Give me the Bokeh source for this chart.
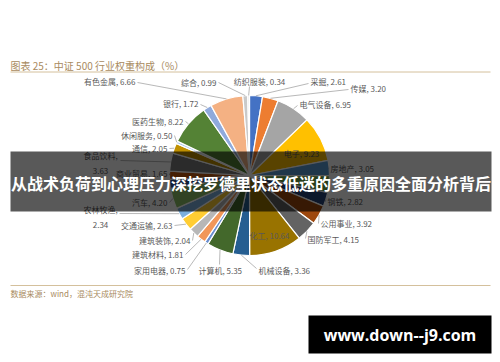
import numpy as np
from bokeh.plotting import figure
from bokeh.models import Range1d, ColumnDataSource
from bokeh.core.properties import value
from bokeh.embed import file_html
from bokeh.resources import INLINE

# ---------------- data ----------------
categories = ["采掘", "传媒", "电气设备", "电子", "房地产", "非银金融", "钢铁", "公用事业",
              "国防军工", "化工", "机械设备", "计算机", "家用电器", "建筑材料", "建筑装饰",
              "交通运输", "农林牧渔", "汽车", "轻工制造", "商业贸易", "食品饮料", "通信",
              "休闲服务", "医药生物", "银行", "有色金属", "综合", "纺织服装"]
weights = [2.61, 3.20, 6.95, 9.23, 3.05, 3.40, 2.82, 3.92,
           4.15, 10.64, 3.36, 5.35, 0.75, 1.81, 2.04,
           2.63, 2.34, 4.20, 1.79, 1.65, 3.63, 2.05,
           0.50, 8.22, 1.72, 6.66, 0.99, 0.34]
# labels shown in the picture (None = hidden under the banner)
label_texts = ["采掘, 2.61", "传媒, 3.20", "电气设备, 6.95", "电子, 9.23", "房地产, 3.05", None,
               "钢铁, 2.82", "公用事业, 3.92", "国防军工, 4.15", "化工, 10.64", "机械设备, 3.36",
               "计算机, 5.35", "家用电器, 0.75", "建筑材料, 1.81", "建筑装饰, 2.04",
               "交通运输, 2.63", "农林牧渔,\n2.34", "汽车, 4.20", None, "商业贸易, 1.65",
               "食品饮料,\n3.63", "通信, 2.05", "休闲服务, 0.50", "医药生物, 8.22",
               "银行, 1.72", "有色金属, 6.66", "综合, 0.99", "纺织服装, 0.34"]
title_text = "图表 25：中证 500 行业权重构成（%）"
source_text = "数据来源：wind，混沌天成研究院"
banner_text = "从战术负荷到心理压力深挖罗德里状态低迷的多重原因全面分析背后"
watermark_text = "www.down--j9.com"

# ---------------- styles / layout ----------------
colors = ["#4472C4", "#ED7D31", "#A5A5A5", "#FFC000", "#5B9BD5", "#70AD47", "#264478", "#9E480E",
          "#636363", "#997300", "#255E91", "#43682B", "#698ED0", "#F1975A", "#B7B7B7",
          "#FFCD33", "#7CAFDD", "#8CC168", "#2F5597", "#C55A11", "#7B7B7B", "#BF9000",
          "#9DC3E6", "#548235", "#8FAADC", "#F4B183", "#C9C9C9", "#E2E2E2"]
# label layout in screen px: (text x, text y, align, elbow x, elbow y); elbow None = no leader
label_layout = [
    (310, 81, "left", 308, 83), (350, 88, "left", 348, 89), (299, 104, "left", 297, 105),
    (301, 153, "center", None, None), (330, 168, "left", 328, 168), None,
    (327, 201, "left", 325, 201), (320, 223, "left", 318, 223), (307, 239, "left", 305, 238),
    (269, 235, "center", None, None), (258, 270, "left", 256, 268),
    (198, 270, "left", 219, 264), (185, 270, "right", 187, 269), (183, 254, "right", 185, 254),
    (190, 240, "right", 192, 240), (172, 225, "right", 174, 225), (100, 216.5, "center", 119, 213),
    (167, 202, "right", 169, 202), None, (167, 173, "right", 169, 173),
    (100, 162.5, "center", 120, 160), (167, 148, "right", 169, 148), (172, 135, "right", 174, 135),
    (183, 121, "right", 185, 121), (198, 103, "right", 200, 104), (135, 81, "right", 137, 82),
    (216, 82, "right", 218, 82), (259, 81, "center", 249, 86),
]

W, H = 500, 362


def Y(v):
    return H - v


CX, CY, R = 249, Y(175), 80
FONT = value("Noto Sans CJK SC")
TAN = "#A88A5E"

p = figure(width=W, height=H, x_range=Range1d(0, W), y_range=Range1d(0, H),
           output_backend="svg", toolbar_location=None, x_axis_type=None, y_axis_type=None,
           min_border=0)
p.outline_line_color = None
p.background_fill_color = "white"
p.border_fill_color = "white"

# ---------------- pie ----------------
w = np.array(weights)
frac = w / w.sum()
cend = np.cumsum(frac)
cstart = cend - frac
src = ColumnDataSource(dict(
    cat=categories, x=[CX] * len(w), y=[CY] * len(w),
    start=(np.pi / 2 - 2 * np.pi * cstart).tolist(),
    end=(np.pi / 2 - 2 * np.pi * cend).tolist(),
    color=colors))
p.wedge(x="x", y="y", radius=R, start_angle="start", end_angle="end", direction="clock",
        fill_color="color", line_color="white", line_width=1.2, source=src)

# ---------------- labels & leaders ----------------
lx, ly = [], []
groups = {"left": ([], [], []), "right": ([], [], []), "center": ([], [], [])}
for i, (txt, lay) in enumerate(zip(label_texts, label_layout)):
    if txt is None or lay is None:
        continue
    tx, ty, al, ex, ey = lay
    g = groups[al]
    g[0].append(tx); g[1].append(Y(ty)); g[2].append(txt)
    if ex is not None:
        th = np.pi * (cstart[i] + cend[i])
        sx = CX + R * np.sin(th)
        sy = CY + R * np.cos(th)
        lx.append([sx, ex]); ly.append([sy, Y(ey)])

p.multi_line(xs=lx, ys=ly, line_color="#A6A6A6", line_width=0.8)
for al, (xs, ys, ts) in groups.items():
    p.text(x=xs, y=ys, text=ts, text_align=al, text_baseline="middle",
           text_font=FONT, text_font_size="8px", text_color="#595959",
           text_line_height=1.35)

# ---------------- title / source ----------------
p.text(x=[10], y=[Y(65)], text=[title_text], text_font=FONT, text_font_size="10px",
       text_color=TAN, text_baseline="middle", text_align="left")
p.segment(x0=[10], y0=[Y(71.5)], x1=[490], y1=[Y(71.5)], line_color="#D4C09C", line_width=1)
p.segment(x0=[10], y0=[Y(285)], x1=[490], y1=[Y(285)], line_color="#D4C09C", line_width=1.2)
p.text(x=[10], y=[Y(293)], text=[source_text], text_font=FONT, text_font_size="8px",
       text_color=TAN, text_baseline="middle", text_align="left")

# ---------------- banner ----------------
p.quad(left=[10], right=[491], top=[Y(151)], bottom=[Y(211)], fill_color="black",
       fill_alpha=0.65, line_color=None)
p.text(x=[250.5], y=[Y(182)], text=[banner_text], text_font=FONT, text_font_size="16px",
       text_font_style="bold", text_color="white", text_baseline="middle", text_align="center")

# ---------------- watermark ----------------
p.quad(left=[308], right=[491], top=[Y(315)], bottom=[Y(353)], fill_color="black",
       line_color=None)
p.text(x=[399.5], y=[Y(334)], text=[watermark_text], text_font=value("Open Sans"),
       text_font_size="16px", text_font_style="bold", text_color="white",
       text_baseline="middle", text_align="center")

open("out.html", "w").write(file_html(p, INLINE))
